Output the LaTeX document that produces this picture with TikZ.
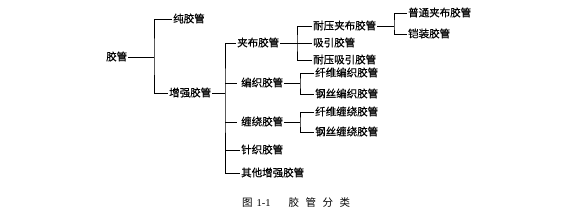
\documentclass[tikz,border=0pt]{standalone}
\usepackage{fontspec}
\newfontfamily\cjk[FakeBold=0.6]{Noto Sans CJK SC}
\newfontfamily\cjkcap{Noto Sans CJK SC}
\setmainfont{Liberation Serif}
\begin{document}
\begin{tikzpicture}[x=1pt,y=-1pt,
  lbl/.style={anchor=west,inner sep=1pt,font=\cjk\fontsize{10.5pt}{12pt}\selectfont,text height=0.82em,text depth=0.12em},
  conn/.style={draw=black,line width=0.75pt}]
\useasboundingbox (0,0) rectangle (588,215);
\fill[white] (0,0) rectangle (588,215);
% nodes
\node[lbl] (root) at (105,57) {胶管};
\node[lbl] (pure) at (172,19) {纯胶管};
\node[lbl] (reinf) at (168,93) {增强胶管};
\node[lbl] (jiabu) at (236,43) {夹布胶管};
\node[lbl] (bianzhi) at (240,83) {编织胶管};
\node[lbl] (chanrao) at (240,122) {缠绕胶管};
\node[lbl] (zhenzhi) at (240,150) {针织胶管};
\node[lbl] (qita) at (240,173) {其他增强胶管};
\node[lbl] (nyjb) at (312,26) {耐压夹布胶管};
\node[lbl] (xy) at (312,43) {吸引胶管};
\node[lbl] (nyxy) at (312,60) {耐压吸引胶管};
\node[lbl] (ptjb) at (407,13) {普通夹布胶管};
\node[lbl] (kz) at (407,34) {铠装胶管};
\node[lbl] (xwbz) at (314,73) {纤维编织胶管};
\node[lbl] (gsbz) at (314,94) {钢丝编织胶管};
\node[lbl] (xwcr) at (314,112) {纤维缠绕胶管};
\node[lbl] (gscr) at (314,132) {钢丝缠绕胶管};
\node[anchor=west,inner sep=0pt,font=\fontsize{10.5pt}{12pt}\selectfont] (cap) at (242,203)
  {{\cjkcap 图}\hspace{4pt}1-1\hspace{18pt}{\cjkcap 胶\hspace{6.5pt}管\hspace{6.5pt}分\hspace{6.5pt}类}};
% bar coordinates
\coordinate (b1) at (154,57);
\coordinate (b2) at (225,93);
\coordinate (b3) at (297,43);
\coordinate (b4) at (394,26);
\coordinate (b5) at (300,83);
\coordinate (b6) at (300,122);
% connectors
\draw[conn] (root.east) -- (b1);
\draw[conn] (pure.west) -| (b1) |- (reinf.west);
\draw[conn] (reinf.east) -- (b2);
\draw[conn] (jiabu.west) -| (b2) |- (qita.west);
\draw[conn] (b2 |- bianzhi) -- ([xshift=-3pt]bianzhi.west);
\draw[conn] (b2 |- chanrao) -- ([xshift=-3pt]chanrao.west);
\draw[conn] (b2 |- zhenzhi) -- (zhenzhi.west);
\draw[conn] (jiabu.east) -- (xy.west);
\draw[conn] (nyjb.west) -| (b3) |- (nyxy.west);
\draw[conn] (nyjb.east) -- (b4);
\draw[conn] (ptjb.west) -| (b4) |- (kz.west);
\draw[conn] (bianzhi.east) -- (b5);
\draw[conn] (xwbz.west) -| (b5) |- (gsbz.west);
\draw[conn] (chanrao.east) -- (b6);
\draw[conn] (xwcr.west) -| (b6) |- (gscr.west);
\end{tikzpicture}
\end{document}
